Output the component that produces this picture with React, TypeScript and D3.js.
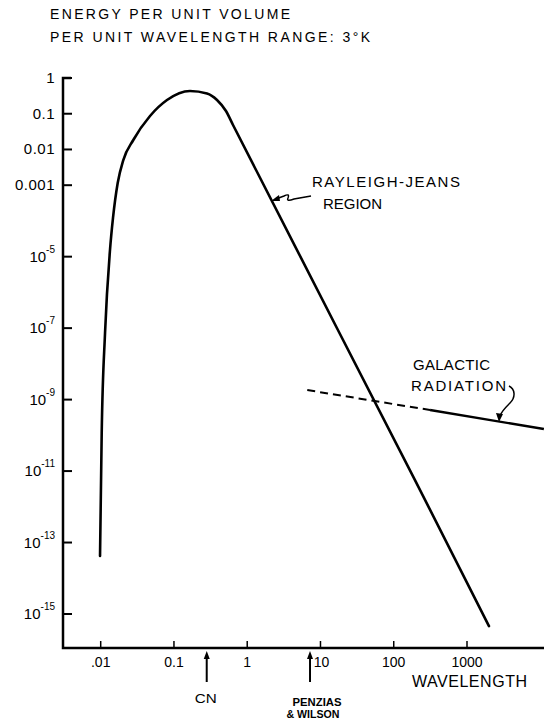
import React from 'react';
import * as d3 from 'd3';

// wavelength (cm) vs energy per unit volume per unit wavelength
const wavelengths = [0.00979, 0.01032, 0.01146, 0.0134, 0.01472, 0.01706, 0.02035, 0.02786, 0.0471, 0.0804, 0.1655, 0.2825, 0.3868, 0.513, 0.64, 195, 1995];
const energies = [4.2e-14, 1.16e-10, 7.3e-8, 1.55e-5, 1.21e-4, 1.15e-3, 5.07e-3, 0.0184, 0.0864, 0.242, 0.433, 0.368, 0.242, 0.1193, 0.0484, 5.6e-12, 4.6e-16];

const galacticWavelengths = [6.6, 313, 11200];
const galacticEnergies = [1.85e-9, 5.1e-10, 1.5e-10];

const xTicks = [0.01, 0.1, 1, 10, 100, 1000];
const xTickLabels = ['.01', '0.1', '1', '10', '100', '1000'];

const yTicks = [1, 0.1, 0.01, 0.001, 1e-5, 1e-7, 1e-9, 1e-11, 1e-13, 1e-15];
const yTickLabels = ['1', '0.1', '0.01', '0.001', '-5', '-7', '-9', '-11', '-13', '-15'];

const markerWavelengths = [0.28, 7.2];

const W = 544;
const H = 721;
const FONT = '"Liberation Sans", Arial, sans-serif';

const App = () => {
  const x = d3.scaleLog().domain([0.01, 1000]).range([100.7, 467]);
  const y = d3.scaleLog().domain([1e-15, 1]).range([614, 78]);

  const axisX = 63;
  const axisY = 648;

  const curve = d3.line<number>()
    .x((d, i) => x(wavelengths[i]))
    .y((d) => y(d))
    .curve(d3.curveMonotoneX);

  const galactic = d3.line<number>()
    .x((d, i) => x(galacticWavelengths[i]))
    .y((d) => y(d));

  const dashedPart = galactic(galacticEnergies.slice(0, 2)) || '';
  const solidPart = d3.line<number>()
    .x((d, i) => x(galacticWavelengths[i + 1]))
    .y((d) => y(d))(galacticEnergies.slice(1)) || '';

  const cnX = x(markerWavelengths[0]);
  const pwX = x(markerWavelengths[1]);

  const upArrow = (cx: number) => (
    <g>
      <line x1={cx} x2={cx} y1={656} y2={682} stroke="#000" strokeWidth={2} />
      <path d={`M${cx},651 L${cx - 3},659 L${cx + 3},659 Z`} fill="#000" />
    </g>
  );

  return (
    <svg width={W} height={H} style={{ position: 'absolute', left: 0, top: 0, display: 'block', background: '#fff' }} fontFamily={FONT}>
      {/* title */}
      <text x={50} y={19} fontSize={14} textLength={240} lengthAdjust="spacing">ENERGY PER UNIT VOLUME</text>
      <text x={50} y={42} fontSize={14} textLength={320} lengthAdjust="spacing">PER UNIT WAVELENGTH RANGE: 3°K</text>

      {/* axes */}
      <path d={`M${axisX + 8},${y(1)} H${axisX} V${axisY} H${W}`} fill="none" stroke="#000" strokeWidth={2.5} />
      {yTicks.map((t, i) => (
        <g key={`yt${i}`}>
          <line x1={axisX} x2={axisX + 9} y1={y(t)} y2={y(t)} stroke="#000" strokeWidth={2} />
          {t >= 0.001 ? (
            <text x={55} y={y(t) + 5} fontSize={15} textAnchor="end" letterSpacing={0.5}>{yTickLabels[i]}</text>
          ) : (
            <text x={55} y={y(t) + 5} fontSize={15} textAnchor="end">
              10<tspan fontSize={10} dy={-9}>{yTickLabels[i]}</tspan>
            </text>
          )}
        </g>
      ))}
      {xTicks.map((t, i) => (
        <g key={`xt${i}`}>
          <line x1={x(t)} x2={x(t)} y1={axisY} y2={axisY - 7} stroke="#000" strokeWidth={1.5} />
          <text x={x(t) + (i === 3 ? 1 : 0)} y={667} fontSize={14} textAnchor="middle">{xTickLabels[i]}</text>
        </g>
      ))}
      <text x={412} y={687} fontSize={16} textLength={115} lengthAdjust="spacing">WAVELENGTH</text>

      {/* planck curve */}
      <path d={curve(energies) || ''} fill="none" stroke="#000" strokeWidth={2.6} strokeLinejoin="round" strokeLinecap="round" />

      {/* galactic radiation */}
      <path d={dashedPart} fill="none" stroke="#000" strokeWidth={2} strokeDasharray="8,5" />
      <path d={solidPart} fill="none" stroke="#000" strokeWidth={2.4} />

      {/* rayleigh-jeans annotation */}
      <text x={312} y={187} fontSize={15} textLength={148} lengthAdjust="spacing">RAYLEIGH-JEANS</text>
      <text x={323} y={209} fontSize={15} textLength={59} lengthAdjust="spacing">REGION</text>
      <path d="M276,199 L284,196 Q290,193 288,198 Q286,202 294,199 L311,196" fill="none" stroke="#000" strokeWidth={1.5} />
      <path d="M271,201 L279,195 L280,201 Z" fill="#000" />

      {/* galactic annotation */}
      <text x={413} y={370} fontSize={15} textLength={77} lengthAdjust="spacing">GALACTIC</text>
      <text x={411} y={391} fontSize={15} textLength={95} lengthAdjust="spacing">RADIATION</text>
      <path d="M509,386 C515,389 516,397 510,403 C505,408 501,412 500,416" fill="none" stroke="#000" strokeWidth={1.5} />
      <path d="M499,422 L496,413 L503,414 Z" fill="#000" />

      {/* measurement markers */}
      {upArrow(cnX)}
      {upArrow(pwX)}
      <text x={cnX - 1} y={703} fontSize={13} textAnchor="middle" textLength={22} lengthAdjust="spacingAndGlyphs">CN</text>
      <text x={pwX + 7} y={706} fontSize={10.5} fontWeight="bold" textAnchor="middle" textLength={49} lengthAdjust="spacingAndGlyphs">PENZIAS</text>
      <text x={pwX + 3} y={718} fontSize={10.5} fontWeight="bold" textAnchor="middle" textLength={53} lengthAdjust="spacingAndGlyphs">&amp; WILSON</text>
    </svg>
  );
};

export default App;
